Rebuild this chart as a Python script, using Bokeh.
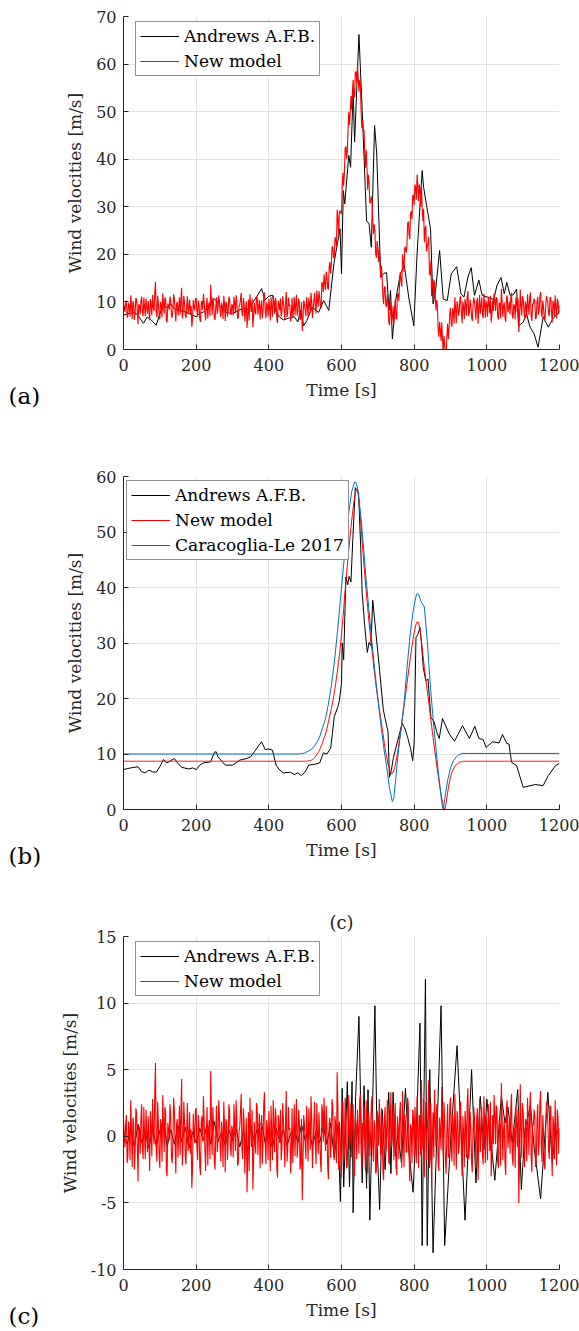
from bokeh.plotting import figure
from bokeh.models import Range1d, FixedTicker, Legend, LegendItem, Title
from bokeh.layouts import column
from bokeh.embed import file_html
from bokeh.resources import INLINE

# ---------------- data ----------------
TIME_TICKS = [0, 200, 400, 600, 800, 1000, 1200]
YTICKS_A = [0, 10, 20, 30, 40, 50, 60, 70]
YTICKS_B = [0, 10, 20, 30, 40, 50, 60]
YTICKS_C = [-10, -5, 0, 5, 10, 15]
YTICK_TEXT_C = {-10: "-10", -5: "-5", 0: "0", 5: "5", 10: "10", 15: "15"}

LEGEND_ANDREWS = "Andrews A.F.B."
LEGEND_NEW = "New model"
LEGEND_CL = "Caracoglia-Le 2017"

# Panel (a): Andrews record (raw)
ANDREWS_A_T = [0, 10, 20, 30, 40, 50, 55, 65, 75, 90, 100, 110, 120, 130, 140, 155, 170, 185, 200, 210,
               220, 235, 250, 260, 270, 285, 300, 315, 330, 340, 355, 370, 380, 390, 400, 410, 420, 430, 440, 455,
               470, 480, 487, 496, 505, 519, 537, 551, 565, 579, 596, 600, 605, 609, 620, 625, 632, 636, 648, 657,
               669, 676, 682, 691, 697, 708, 715, 724, 731, 735, 740, 749, 762, 773, 785, 799, 808, 822, 826, 835,
               845, 852, 858, 870, 880, 891, 902, 917, 929, 937, 948, 957, 966, 978, 987, 1006, 1019, 1028, 1039, 1048,
               1055, 1064, 1073, 1082, 1087, 1100, 1109, 1119, 1130, 1141, 1155, 1169, 1182, 1200]
ANDREWS_A_V = [7.2, 7.5, 7.6, 7.8, 7.2, 6.0, 5.5, 6.8, 6.3, 5.1, 7.5, 9.3, 8.8, 9.6, 8.6, 8.2, 7.9, 7.4, 6.9, 7.6,
               7.9, 8.8, 10.7, 9.8, 8.6, 7.7, 7.6, 8.1, 8.7, 8.3, 9.8, 11.5, 12.8, 10.4, 11.2, 11.4, 7.9, 6.8, 6.2, 6.6,
               6.9, 5.8, 8.2, 5.0, 6.1, 8.9, 7.8, 10.3, 8.2, 18.0, 25.4, 15.9, 33.4, 30.6, 40.8, 38.3, 54.4, 43.6, 66.2, 50.2,
               27.1, 26.4, 21.5, 47.1, 41.1, 15.2, 15.9, 16.2, 8.2, 12.4, 2.2, 10.3, 15.9, 17.7, 11.0, 5.0, 20.1, 37.6, 34.1, 29.9,
               25.4, 9.6, 11.7, 20.8, 10.6, 10.3, 15.9, 17.4, 11.7, 11.0, 15.2, 17.2, 11.4, 14.6, 11.4, 10.9, 10.5, 13.5, 15.1, 11.7,
               14.1, 11.4, 11.5, 12.7, 5.0, 5.7, 7.5, 4.7, 3.3, 0.5, 6.8, 4.7, 6.5, 8.0]

# Panel (b): Andrews record (time-varying mean)
ANDREWS_B_T = [0, 20, 40, 50, 60, 70, 80, 90, 100, 110, 120, 140, 150, 160, 180, 190, 200, 210, 220, 240,
               250, 255, 260, 280, 300, 310, 320, 340, 350, 360, 380, 390, 400, 410, 420, 430, 440, 460, 470, 480,
               490, 500, 510, 530, 540, 550, 560, 570, 575, 580, 590, 594, 600, 602, 606, 612, 617, 621, 626, 631,
               638, 647, 653, 657, 664, 671, 676, 681, 686, 694, 705, 715, 723, 728, 732, 737, 743, 755, 767, 775,
               782, 790, 796, 800, 805, 810, 816, 820, 825, 832, 838, 846, 855, 862, 869, 878, 896, 911, 933, 952,
               967, 978, 990, 998, 1016, 1034, 1043, 1055, 1061, 1068, 1082, 1100, 1134, 1155, 1169, 1189, 1200]
ANDREWS_B_V = [7.2, 7.5, 7.7, 6.8, 6.6, 7.1, 6.8, 6.7, 7.7, 9.0, 8.4, 9.2, 8.3, 7.6, 7.3, 7.5, 7.2, 8.0, 8.4, 8.6,
               10.3, 10.4, 9.5, 8.0, 8.0, 8.4, 8.9, 9.2, 9.5, 10.4, 12.2, 10.8, 10.9, 10.7, 8.0, 7.1, 6.6, 6.7, 6.3, 6.6,
               6.1, 6.8, 8.0, 8.2, 8.4, 10.2, 10.0, 11.0, 13.7, 16.7, 18.5, 19.6, 22.7, 30.0, 27.0, 41.9, 40.5, 42.0, 41.0, 48.5,
               58.0, 57.0, 47.0, 38.9, 33.0, 28.3, 30.1, 29.5, 37.7, 32.3, 25.0, 18.0, 15.5, 14.0, 5.8, 7.0, 9.4, 12.5, 15.5, 14.5,
               13.0, 11.0, 8.8, 12.0, 31.0, 31.5, 32.8, 30.0, 25.6, 23.2, 23.5, 16.6, 15.8, 14.0, 12.8, 16.4, 13.7, 12.3, 15.1, 12.8,
               15.0, 12.8, 12.6, 11.2, 12.2, 12.0, 13.5, 11.9, 11.8, 8.5, 7.9, 4.0, 4.5, 4.3, 6.1, 7.9, 8.3]

# Panel (c): Andrews record (fluctuations)
ANDREWS_C_T = [0, 10, 20, 30, 40, 50, 60, 70, 80, 90, 100, 110, 120, 130, 140, 150, 160, 170, 180, 190,
               200, 210, 220, 230, 240, 250, 260, 270, 280, 290, 300, 310, 320, 330, 340, 350, 360, 370, 380, 390,
               400, 410, 420, 430, 440, 450, 460, 470, 480, 490, 500, 510, 520, 530, 540, 550, 560, 570, 580, 590,
               597, 602, 606, 616, 622, 629, 632, 639, 648, 657, 662, 669, 673, 678, 692, 698, 705, 712, 720, 730,
               736, 742, 748, 755, 765, 776, 785, 797, 808, 816, 822, 831, 836, 843, 852, 874, 884, 900, 918, 940,
               958, 970, 982, 992, 1000, 1012, 1022, 1040, 1050, 1058, 1070, 1085, 1095, 1105, 1120, 1130, 1148, 1168, 1180, 1190,
               1200]
ANDREWS_C_V = [0.0, -0.6, 0.5, -0.8, 0.9, -0.5, 0.3, -0.9, 0.6, -0.7, 0.4, 1.3, -0.8, 0.5, -0.6, 0.8, -0.4, 0.7, -0.9, 0.3,
               -0.5, 0.6, -0.3, 0.9, -0.6, 1.1, -0.4, 0.3, -0.7, 0.5, -0.3, 0.6, -0.8, 0.4, -1.2, 0.7, -0.3, 0.8, 1.0, -0.5,
               0.3, -0.9, 0.6, -0.4, 0.5, -0.7, 0.2, 0.6, -0.5, 0.9, -0.3, 0.6, -0.8, 0.4, -0.5, 0.8, -0.6, 1.0, -1.6, 0.8,
               -4.9, 3.6, -3.8, 4.1, -3.8, 4.1, -5.75, 3.0, 9.0, -3.5, 3.8, -3.9, 3.5, -6.3, 9.8, -0.5, -5.5, 2.0, -2.5, 3.3,
               -2.8, 3.3, -1.5, 0.2, -2.0, 3.6, -1.0, -4.2, 2.0, 8.5, -8.2, 11.8, -8.2, 5.0, -8.75, 9.8, -8.2, -0.5, 6.8, -6.3,
               5.0, -3.5, 3.0, -1.0, 2.8, -0.5, -3.3, 3.0, 1.0, 2.2, -0.5, 3.5, -4.0, 0.5, 2.3, -0.8, -4.7, 3.3, -2.0, 0.5,
               0.0]

# New model, read every 4 s (t = 0, 4, ..., 1200)
NEW_MODEL_MEAN_4S = [
    8.7, 8.7, 8.7, 8.7, 8.7, 8.7, 8.7, 8.7, 8.7, 8.7, 8.7, 8.7, 8.7, 8.7, 8.7, 8.7, 8.7, 8.7, 8.7, 8.7, 8.7, 8.7, 8.7, 8.7, 8.7,
    8.7, 8.7, 8.7, 8.7, 8.7, 8.7, 8.7, 8.7, 8.7, 8.7, 8.7, 8.7, 8.7, 8.7, 8.7, 8.7, 8.7, 8.7, 8.7, 8.7, 8.7, 8.7, 8.7, 8.7, 8.7,
    8.7, 8.7, 8.7, 8.7, 8.7, 8.7, 8.7, 8.7, 8.7, 8.7, 8.7, 8.7, 8.7, 8.7, 8.7, 8.7, 8.7, 8.7, 8.7, 8.7, 8.7, 8.7, 8.7, 8.7, 8.7,
    8.7, 8.7, 8.7, 8.7, 8.7, 8.7, 8.7, 8.7, 8.7, 8.7, 8.7, 8.7, 8.7, 8.7, 8.7, 8.7, 8.7, 8.7, 8.7, 8.7, 8.7, 8.7, 8.7, 8.7, 8.7,
    8.7, 8.7, 8.7, 8.7, 8.7, 8.7, 8.7, 8.7, 8.7, 8.7, 8.7, 8.7, 8.7, 8.7, 8.7, 8.7, 8.7, 8.7, 8.7, 8.7, 8.7, 8.7, 8.7, 8.7, 8.7,
    8.7, 8.7, 8.8, 8.8, 8.9, 9.0, 9.2, 9.5, 9.9, 10.3, 10.8, 11.4, 12.1, 12.9, 13.6, 14.6, 15.8, 17.0, 18.2, 19.4, 21.0, 22.7, 24.5, 26.5, 28.8,
    31.6, 34.6, 37.8, 41.0, 44.0, 46.8, 49.5, 52.0, 54.3, 56.2, 57.5, 57.7, 55.5, 52.5, 49.0, 45.6, 42.3, 39.3, 36.4, 33.6, 31.0, 28.6, 26.2, 24.0, 21.9,
    20.0, 18.2, 16.4, 14.6, 12.8, 11.0, 9.6, 8.2, 7.2, 6.6, 6.5, 7.0, 8.0, 9.4, 11.0, 12.8, 14.7, 16.6, 18.6, 20.6, 22.6, 24.6, 26.6, 28.5, 30.3,
    31.9, 33.1, 33.8, 33.6, 32.4, 30.3, 28.0, 25.6, 23.4, 21.4, 19.5, 17.3, 15.1, 13.0, 11.0, 9.0, 7.1, 5.3, 3.6, 2.0, 0.7, 0.0, 1.2, 3.0, 4.6,
    5.8, 6.7, 7.3, 7.8, 8.1, 8.3, 8.5, 8.6, 8.6, 8.7, 8.7, 8.7, 8.7, 8.7, 8.7, 8.7, 8.7, 8.7, 8.7, 8.7, 8.7, 8.7, 8.7, 8.7, 8.7,
    8.7, 8.7, 8.7, 8.7, 8.7, 8.7, 8.7, 8.7, 8.7, 8.7, 8.7, 8.7, 8.7, 8.7, 8.7, 8.7, 8.7, 8.7, 8.7, 8.7, 8.7, 8.7, 8.7, 8.7, 8.7,
    8.7, 8.7, 8.7, 8.7, 8.7, 8.7, 8.7, 8.7, 8.7, 8.7, 8.7, 8.7, 8.7, 8.7, 8.7, 8.7, 8.7, 8.7, 8.7, 8.7, 8.7, 8.7, 8.7, 8.7, 8.7,
    8.7]
# New model, read at the in-between instants (t = 2, 6, ..., 1198)
NEW_MODEL_MEAN_MID = [
    8.7, 8.7, 8.7, 8.7, 8.7, 8.7, 8.7, 8.7, 8.7, 8.7, 8.7, 8.7, 8.7, 8.7, 8.7, 8.7, 8.7, 8.7, 8.7, 8.7, 8.7, 8.7, 8.7, 8.7, 8.7,
    8.7, 8.7, 8.7, 8.7, 8.7, 8.7, 8.7, 8.7, 8.7, 8.7, 8.7, 8.7, 8.7, 8.7, 8.7, 8.7, 8.7, 8.7, 8.7, 8.7, 8.7, 8.7, 8.7, 8.7, 8.7,
    8.7, 8.7, 8.7, 8.7, 8.7, 8.7, 8.7, 8.7, 8.7, 8.7, 8.7, 8.7, 8.7, 8.7, 8.7, 8.7, 8.7, 8.7, 8.7, 8.7, 8.7, 8.7, 8.7, 8.7, 8.7,
    8.7, 8.7, 8.7, 8.7, 8.7, 8.7, 8.7, 8.7, 8.7, 8.7, 8.7, 8.7, 8.7, 8.7, 8.7, 8.7, 8.7, 8.7, 8.7, 8.7, 8.7, 8.7, 8.7, 8.7, 8.7,
    8.7, 8.7, 8.7, 8.7, 8.7, 8.7, 8.7, 8.7, 8.7, 8.7, 8.7, 8.7, 8.7, 8.7, 8.7, 8.7, 8.7, 8.7, 8.7, 8.7, 8.7, 8.7, 8.7, 8.7,
    8.7, 8.7, 8.7, 8.8, 8.8, 8.9, 9.1, 9.3, 9.7, 10.1,
    10.5, 11.1, 11.7, 12.5, 13.2, 14.1, 15.2, 16.4, 17.6, 18.8,
    20.2, 21.8, 23.6, 25.5, 27.6, 30.2, 33.1, 36.2, 39.4, 42.5,
    45.4, 48.2, 50.8, 53.2, 55.3, 56.9, 57.7, 56.8, 54.0, 50.8,
    47.3, 43.9, 40.8, 37.8, 35.0, 32.3, 29.8, 27.4, 25.1, 22.9,
    20.9, 19.1, 17.3, 15.5, 13.7, 11.9, 10.3, 8.9, 7.7, 6.9,
    6.5, 6.7, 7.5, 8.7, 10.2, 11.9, 13.7, 15.6, 17.6, 19.6,
    21.6, 23.6, 25.6, 27.6, 29.4, 31.1, 32.5, 33.5, 33.8, 33.1,
    31.4, 29.2, 26.8, 24.5, 22.4, 20.4, 18.4, 16.2, 14.0, 12.0,
    10.0, 8.0, 6.2, 4.4, 2.8, 1.3, 0.3, 0.5, 2.1, 3.8,
    5.2, 6.3, 7.0, 7.6, 8.0, 8.2, 8.4, 8.5, 8.6, 8.6,
    8.7,
    8.7, 8.7, 8.7, 8.7, 8.7, 8.7, 8.7, 8.7, 8.7, 8.7, 8.7, 8.7, 8.7, 8.7, 8.7, 8.7, 8.7, 8.7, 8.7, 8.7, 8.7, 8.7, 8.7, 8.7, 8.7,
    8.7, 8.7, 8.7, 8.7, 8.7, 8.7, 8.7, 8.7, 8.7, 8.7, 8.7, 8.7, 8.7, 8.7, 8.7, 8.7, 8.7, 8.7, 8.7, 8.7, 8.7, 8.7, 8.7, 8.7, 8.7,
    8.7, 8.7, 8.7, 8.7, 8.7, 8.7, 8.7, 8.7, 8.7, 8.7, 8.7, 8.7, 8.7, 8.7, 8.7]

NEW_MODEL_FLUCT_4S = [
    1.2, -0.8, 1.6, -1.5, 0.4, 2.7, -2.3, 0.9, -1.1, 1.8, -3.4, 0.6, 1.4, -0.9, 2.2, -1.7, 0.3, 1.5, -2.6, 0.8, 2.8, -0.6, 5.5, -1.9, 1.0,
    -2.4, 0.7, 3.1, -1.2, 1.9, -3.0, 0.5, 2.4, -1.6, -0.4, 2.0, -2.8, 1.3, 0.2, -1.4, 4.3, -0.7, 1.1, -2.1, 2.5, 0.1, -1.3, -3.9, 1.7, -0.5,
    2.1, -1.8, 0.6, -2.9, 1.5, 3.0, -0.9, 0.4, -2.2, 1.2, 4.9, -1.4, 0.8, -2.5, 2.3, -0.3, 1.6, -1.9, 0.2, 2.6, -2.7, 1.0, -0.6, 1.9, -1.5,
    0.5, 2.4, -1.1, 1.3, -2.0, 0.7, 3.2, -1.7, 0.9, -0.2, -4.2, 1.8, 2.9, -0.8, -4.0, 1.1, -1.3, 2.2, 0.4, -2.4, 1.6, -0.5, 3.3, -2.1, 0.6,
    1.9, -2.6, 0.3, 2.7, -1.2, 1.4, -3.1, 0.8, 2.0, -0.9, 1.3, -2.3, 3.4, -1.0, 0.5, -2.8, 2.1, 0.0, -1.5, 2.8, -0.7, 1.2, -2.0, -4.8, 1.6,
    -0.4, 2.3, -1.9, 0.7, 3.0, -2.4, 1.1, -0.6, 2.5, -1.3, 0.2, -2.7, 1.8, 2.9, -1.1, 0.6, -3.2, 1.4, -0.3, 2.2, -1.8, 0.9, 4.8, -2.5, 0.4,
    -3.1, 2.6, -0.8, 1.7, -2.2, 3.1, 0.3, -1.6, 2.4, -3.0, 0.9, 2.0, -1.3, 3.2, -2.5, 0.5, -0.9, 2.7, -2.8, 1.2, -0.2, 3.0, -1.9, 0.8, -2.6,
    1.5, 2.8, -1.4, 0.4, -3.3, 2.2, -0.6, 1.9, -2.1, 3.3, 0.1, -1.8, 2.5, -2.9, 0.7, 1.6, -0.5, 3.4, -2.3, 1.0, -1.2, 2.3, -3.4, 0.6, 2.0,
    -1.5, 0.9, 3.0, -2.4, 1.3, 4.2, -1.0, -3.1, 2.6, 0.2, 4.2, -1.7, -3.9, 1.8, 3.5, -0.8, 2.1, -2.6, 0.5, 3.7, -1.4, 1.1, -2.8, 2.4, -0.3,
    2.9, -1.9, 0.8, 3.2, -2.5, 1.4, -0.7, 2.6, -3.0, 0.3, 1.9, -1.6, 3.6, -0.9, 0.6, -2.7, 2.2, -0.2, 1.3, -3.3, 2.8, 0.4, -1.5, 3.0, -2.0,
    0.7, 2.4, -1.1, -3.0, 1.6, 3.1, -0.6, 2.0, -2.4, 0.9, 4.0, -1.8, 1.2, -2.9, 2.7, 0.0, -1.3, 3.2, -2.2, 0.5, 2.3, -0.8, -5.0, 3.9, -1.6,
    1.8, -2.3, 0.6, 2.9, -1.4, 3.3, -2.7, 0.8, 1.5, -2.0, 2.4, -0.5, 3.4, -1.9, 0.3, -2.5, 2.6, 1.0, -1.7, 2.2, -3.0, 0.9, 2.7, -2.2, 1.4,
    0.6]
NEW_MODEL_FLUCT_MID = [
    0.3, 0.9, -2.0, 1.1, -1.8, 0.6, 1.4, -2.5, 2.1, -0.6, 0.8, -1.3, 2.4, -1.7, 0.1, 2.0, -1.2, -0.4, 1.9, -1.5, 0.2, 3.1, -0.9, 2.6, -1.4,
    1.3, -1.9, 0.8, 2.2, -2.6, 1.0, -0.3, 1.7, -2.0, 2.9, -0.5, 0.9, -1.6, 2.3, 1.6, -2.2, 2.6, -1.5, 0.6, -1.1, 1.8, 0.5, -2.4, 0.3, 2.0,
    -0.7, 1.6, -2.3, 1.0, -0.4, 1.2, -2.6, 2.2, 0.5, -1.7, 1.5, 2.2, -1.9, 0.4, -1.2, 2.7, -0.8, 1.1, -2.3, 0.9, 1.3, -1.8, 2.4, -0.7, 0.8,
    -1.6, 0.9, 2.7, -2.2, 0.4, 1.9, -1.0, 2.1, -2.8, 1.4, -1.5, -2.6, 0.5, 2.0, -1.9, -0.6, 2.5, -1.4, 1.7, 0.3, -2.1, 2.4, -0.4, 1.2, -1.8,
    0.2, 2.3, -1.8, 0.9, 2.1, -2.4, 1.6, -0.5, -1.8, 2.5, -0.3, 1.1, -1.9, 2.2, 0.6, -1.3, -2.0, 2.4, 0.7, -1.6, 2.0, -2.5, 1.3, -2.2, 0.9,
    -1.7, 0.6, 2.1, -1.0, 1.4, -0.7, 2.6, -2.1, 0.3, 1.8, -1.9, 2.4, -0.4, 0.8, 2.3, -2.3, 0.9, -1.6, 2.8, -0.9, 1.5, -2.0, 2.3, 1.1, -1.5,
    0.9, -1.8, 2.9, -2.4, 0.6, -1.0, 2.5, 1.1, -2.2, 1.4, -1.7, 0.4, 2.7, -1.2, 1.0, 2.3, -2.6, 0.7, 1.8, -1.5, 2.4, -0.6, 1.2, -2.8, 1.9,
    -0.7, 0.5, 2.1, -2.6, 1.3, -1.1, 2.7, -1.9, 0.9, -0.8, 2.4, 1.0, -2.3, 1.5, -1.7, 2.6, -2.4, 0.8, 1.7, -1.2, 2.9, -1.5, 0.9, -2.0, 1.4,
    2.2, -2.0, 0.7, 1.6, -1.4, 0.5, 2.8, 0.8, -1.8, 1.9, -2.4, 2.5, -0.4, -1.6, 1.1, 2.4, -2.1, 1.4, -1.0, 0.9, 2.6, -1.9, 0.4, -1.6, 2.3,
    -0.9, 1.7, -2.2, 0.6, 1.9, -1.3, 2.3, -1.1, 1.5, -2.3, 0.9, 2.5, -1.7, 1.8, -1.9, 0.5, 1.4, -2.4, 2.1, 0.2, -1.2, 2.2, -2.1, 0.7, 1.6,
    -1.8, 0.8, 2.6, -1.4, -0.6, 1.7, 2.3, -1.9, 1.2, -2.2, 1.6, 0.5, -2.0, 2.1, -0.9, 1.4, 2.2, -1.5, 0.8, -2.4, 1.1, 2.0, -1.8, 0.6, 2.5,
    -0.4, 1.3, -1.9, 0.7, 2.2, -1.6, 0.9, 2.0, -2.3, 1.2, -1.4, 2.5, -0.8, 1.6, -2.1, 0.3, 1.9, -1.1, 2.3, -0.9, 1.5, -1.7, 0.4, 2.0, -1.3]

# Caracoglia-Le 2017 model (mean)
CARACOGLIA_T = [0, 100, 200, 300, 400, 480, 492, 500, 508, 516, 524, 532, 540, 548, 556, 564, 572, 580, 588, 596,
                604, 612, 620, 628, 636, 640, 644, 652, 660, 668, 676, 684, 692, 700, 708, 716, 724, 732, 740, 744,
                748, 756, 764, 772, 780, 788, 796, 804, 808, 812, 820, 828, 836, 844, 852, 860, 868, 876, 880, 884,
                892, 900, 908, 916, 924, 932, 950, 1000, 1100, 1200]
CARACOGLIA_V = [10.0, 10.0, 10.0, 10.0, 10.0, 10.0, 10.1, 10.2, 10.5, 10.8, 11.3, 12.1, 13.1, 14.7, 16.4, 19.0, 22.3, 26.3, 31.4, 37.1,
                42.8, 48.4, 53.5, 57.3, 59.0, 58.9, 57.9, 53.7, 47.7, 41.3, 35.6, 30.0, 24.8, 20.0, 15.5, 11.3, 7.8, 3.9, 1.4, 2.0,
                4.6, 10.2, 14.5, 19.0, 25.2, 31.0, 35.3, 38.2, 38.9, 38.8, 37.3, 36.5, 30.5, 22.8, 16.4, 11.0, 5.8, 1.2, 0.0, 1.8,
                5.2, 7.5, 8.8, 9.5, 9.9, 10.1, 10.1, 10.1, 10.1, 10.1]

assert len(ANDREWS_A_T) == len(ANDREWS_A_V)
assert len(ANDREWS_B_T) == len(ANDREWS_B_V)
assert len(ANDREWS_C_T) == len(ANDREWS_C_V)
assert len(NEW_MODEL_MEAN_4S) == len(NEW_MODEL_FLUCT_4S) == 301
assert len(NEW_MODEL_MEAN_MID) == len(NEW_MODEL_FLUCT_MID) == 300
assert len(CARACOGLIA_T) == len(CARACOGLIA_V)

# merge the two read-outs into one 2-s record
MODEL_T, NEW_MODEL_MEAN, NEW_MODEL_FLUCT = [], [], []
for k in range(301):
    MODEL_T.append(4 * k)
    NEW_MODEL_MEAN.append(NEW_MODEL_MEAN_4S[k])
    NEW_MODEL_FLUCT.append(NEW_MODEL_FLUCT_4S[k])
    if k < 300:
        MODEL_T.append(4 * k + 2)
        NEW_MODEL_MEAN.append(NEW_MODEL_MEAN_MID[k])
        NEW_MODEL_FLUCT.append(NEW_MODEL_FLUCT_MID[k])
# simulated total velocity = mean + fluctuation
NEW_MODEL_TOTAL = [m + f for m, f in zip(NEW_MODEL_MEAN, NEW_MODEL_FLUCT)]

# ---------------- style ----------------
SERIF = "DejaVu Serif"
AXIS_COLOR = "#262626"
GRID_COLOR = "#e3e3e3"
BLACK = "#000000"
RED = "#ff0000"
BLUE = "#0072bd"


def make_fig(ylo, yhi, yticks, top, bottom):
    p = figure(frame_width=436, frame_height=333,
               min_border_left=123, min_border_right=20,
               min_border_top=top, min_border_bottom=bottom,
               x_range=Range1d(0, 1200), y_range=Range1d(ylo, yhi),
               output_backend="svg", toolbar_location=None)
    p.outline_line_color = None
    p.background_fill_color = "white"
    p.border_fill_color = "white"
    p.xaxis.ticker = FixedTicker(ticks=TIME_TICKS)
    p.yaxis.ticker = FixedTicker(ticks=yticks)
    p.xgrid.ticker = FixedTicker(ticks=TIME_TICKS)
    p.ygrid.ticker = FixedTicker(ticks=yticks)
    p.grid.grid_line_color = GRID_COLOR
    p.grid.grid_line_width = 1
    for ax in (p.xaxis[0], p.yaxis[0]):
        ax.axis_line_color = AXIS_COLOR
        ax.axis_line_width = 1
        ax.major_tick_line_color = AXIS_COLOR
        ax.major_tick_in = 5
        ax.major_tick_out = 0
        ax.minor_tick_line_color = None
        ax.major_label_text_font = SERIF
        ax.major_label_text_font_size = "16px"
        ax.major_label_text_color = AXIS_COLOR
        ax.axis_label_text_font = SERIF
        ax.axis_label_text_font_size = "17px"
        ax.axis_label_text_font_style = "normal"
        ax.axis_label_text_color = AXIS_COLOR
    p.xaxis.axis_label = "Time [s]"
    p.yaxis.axis_label = "Wind velocities [m/s]"
    p.xaxis.major_label_standoff = 9
    p.xaxis.axis_label_standoff = 6
    p.yaxis.major_label_standoff = 7
    p.yaxis.axis_label_standoff = 8
    return p


def add_legend(p, items, x, y):
    lg = Legend(items=items, location=(x, y))
    lg.label_text_font = SERIF
    lg.label_text_font_size = "17px"
    lg.label_text_color = BLACK
    lg.border_line_color = AXIS_COLOR
    lg.border_line_width = 1
    lg.background_fill_color = "white"
    lg.background_fill_alpha = 1.0
    lg.padding = 4
    lg.spacing = 5
    lg.margin = 0
    lg.glyph_width = 39
    lg.glyph_height = 20
    lg.label_height = 20
    lg.label_standoff = 5
    p.add_layout(lg)


def add_tag(p, text, standoff):
    # panel tag under the axes, at the far left of the figure
    p.add_layout(Title(text=text, align="left", offset=-115, vertical_align="top", standoff=standoff,
                       text_font=SERIF, text_font_size="23px", text_font_style="normal",
                       text_color=BLACK), "below")


# ---- (a) ----
pa = make_fig(0, 70, YTICKS_A, 16, 91)
ra1 = pa.line(ANDREWS_A_T, ANDREWS_A_V, line_color=BLACK, line_width=1)
ra2 = pa.line(MODEL_T, NEW_MODEL_TOTAL, line_color=RED, line_width=1.1)
add_legend(pa, [LegendItem(label=LEGEND_ANDREWS, renderers=[ra1]),
                LegendItem(label=LEGEND_NEW, renderers=[ra2])], 12, 273)
add_tag(pa, "(a)", -40)

# ---- (b) ----
pb = make_fig(0, 60, YTICKS_B, 36, 71)
rb1 = pb.line(ANDREWS_B_T, ANDREWS_B_V, line_color=BLACK, line_width=1)
rb2 = pb.line(MODEL_T, NEW_MODEL_MEAN, line_color=RED, line_width=1)
rb3 = pb.line(CARACOGLIA_T, CARACOGLIA_V, line_color=BLUE, line_width=1)
add_legend(pb, [LegendItem(label=LEGEND_ANDREWS, renderers=[rb1]),
                LegendItem(label=LEGEND_NEW, renderers=[rb2]),
                LegendItem(label=LEGEND_CL, renderers=[rb3])], 3, 249)
add_tag(pb, "(b)", -40)

# ---- (c) ----
pc = make_fig(-10, 15, YTICKS_C, 56, 62)
pc.yaxis.major_label_overrides = YTICK_TEXT_C
rc1 = pc.line(ANDREWS_C_T, ANDREWS_C_V, line_color=BLACK, line_width=1)
rc2 = pc.line(MODEL_T, NEW_MODEL_FLUCT, line_color=RED, line_width=1.1)
add_legend(pc, [LegendItem(label=LEGEND_ANDREWS, renderers=[rc1]),
                LegendItem(label=LEGEND_NEW, renderers=[rc2])], 12, 273)
add_tag(pc, "(c)", -40)
pc.title.text = "(c)"
pc.title.align = "center"
pc.title.text_font = SERIF
pc.title.text_font_size = "18px"
pc.title.text_font_style = "normal"
pc.title.text_color = AXIS_COLOR
pc.title.standoff = 7

layout = column(pa, pb, pc, spacing=0)
open("out.html", "w").write(file_html(layout, INLINE))
